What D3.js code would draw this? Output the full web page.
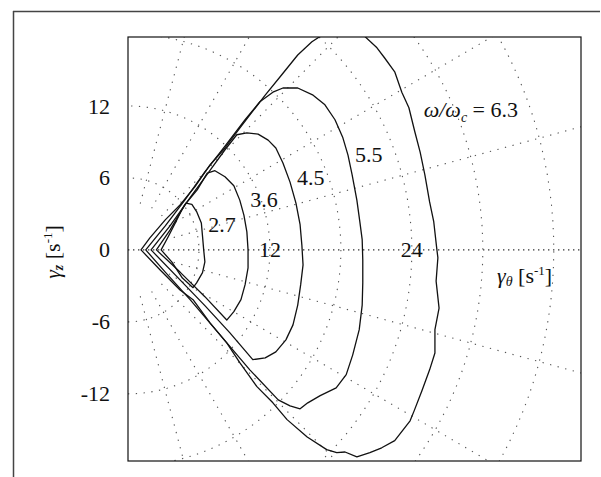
<!DOCTYPE html>
<html>
<head>
<meta charset="utf-8">
<script src="https://cdn.jsdelivr.net/npm/d3@7"></script>
<style>
  html, body { margin: 0; padding: 0; background: #fff; }
  svg { display: block; }
  svg text { font-family: "Liberation Serif", "Times New Roman", Times, "DejaVu Serif", serif; fill: #111; }
</style>
</head>
<body>
<svg id="chart" width="601" height="477"></svg>
<script>
const SERIF = '"Liberation Serif", "Times New Roman", Times, "DejaVu Serif", serif';

// ω/ωc of each trace, inner to outer
const ratios = ["2.7", "3.6", "4.5", "5.5", "6.3"];

// traces [γθ, γz] in s^-1
const trace27 = [[2.8,0],[3.4,1.1],[4.0,2.25],[4.5,3.25],[4.9,3.9],[5.4,3.8],[5.8,3.2],[6.2,2.25],
  [6.3,1.15],[6.4,0],[6.5,-1.0],[6.3,-1.9],[5.8,-2.75],[5.5,-3.15],[4.6,-2.35],[3.7,-1.0]];
const trace36 = [[2.4,0],[3.55,1.65],[4.8,3.75],[5.85,5.0],[6.7,6.4],[7.35,6.6],[8.2,6.1],[8.95,5.35],
  [9.45,4.15],[9.8,2.9],[10.05,1.5],[10.15,0],[10.15,-1.5],[9.9,-2.9],[9.55,-4.15],[8.95,-5.15],
  [8.35,-5.85],[6.5,-3.9],[4.4,-1.85]];
const trace45 = [[1.95,0],[3.55,2.0],[5.25,4.35],[6.95,6.65],[8.2,8.35],[9.2,9.6],[10.05,9.75],[11.0,9.65],
  [11.85,9.15],[12.5,8.5],[13.1,7.25],[13.7,5.65],[14.2,3.9],[14.55,2.1],[14.7,0.4],[14.8,-1.25],
  [14.6,-2.9],[14.35,-4.6],[13.95,-6.25],[13.35,-7.5],[12.5,-8.5],[11.6,-9.0],[10.55,-9.15],
  [8.6,-6.9],[6.5,-4.65],[4.4,-2.5]];
const trace55 = [[1.5,0],[3.15,2.0],[4.8,4.15],[6.5,6.5],[8.2,8.65],[9.9,10.85],[11.15,12.35],[12.25,13.15],
  [13.1,13.5],[14.35,13.5],[15.65,12.9],[16.65,12.1],[17.5,10.85],[18.15,9.4],[18.6,7.9],[18.95,6.25],
  [19.35,4.15],[19.6,2.35],[19.8,0.85],[19.85,-0.85],[19.85,-2.75],[19.8,-4.6],[19.55,-6.65],
  [19.0,-8.75],[18.45,-10.4],[17.6,-11.5],[16.25,-12.15],[15.2,-12.75],[14.55,-13.25],[13.7,-13.0],
  [12.7,-12.5],[10.3,-10.0],[7.8,-7.1],[5.25,-4.15],[3.15,-1.85]];
const trace63 = [[1.1,0],[1.85,1.0],[3.15,2.5],[4.4,3.75],[5.65,5.25],[6.95,7.1],[8.2,8.5],[9.45,10.15],
  [10.5,11.5],[11.6,12.9],[13.0,14.6],[14.35,16.25],[15.55,17.35],[16.4,17.9],[17.6,18.85],[18.75,19.0],
  [19.8,18.0],[21.05,16.85],[21.7,16.0],[22.55,14.85],[23.15,13.15],[23.75,11.85],[24.25,9.85],
  [24.7,8.15],[25.1,6.25],[25.5,4.0],[25.85,2.35],[26.1,0.15],[26.2,-0.65],[26.05,-2.6],[26.3,-4.85],
  [25.95,-6.65],[25.95,-8.6],[25.5,-10.0],[24.85,-11.75],[24.2,-13.4],[23.85,-14.25],[22.55,-15.9],
  [21.45,-16.5],[20.45,-16.9],[19.35,-17.25],[18.35,-16.85],[17.65,-16.9],[16.8,-16.65],[15.15,-15.6],
  [13.45,-14.15],[12.25,-12.75],[10.9,-11.4],[9.45,-9.4],[8.35,-7.75],[6.95,-6.1],[5.5,-4.15],
  [4.4,-3.35],[2.7,-1.65]];
const traces = [trace27, trace36, trace45, trace55, trace63];

const yTicks = [-12, -6, 0, 6, 12];
const ringRadii = [6, 12, 18, 24, 30, 36];
const ringLabels = [12, 24];
const rayAngles = [-75, -60, -45, -30, -15, 15, 30, 45, 60, 75];

// where the ω/ωc numbers sit (data units, baseline)
const ratioLabelPos = [[7.95, 1.5], [11.5, 3.6], [15.45, 5.4], [20.35, 7.35], [25.0, 11.1]];

const svg = d3.select("#chart").attr("font-family", SERIF);
const box = { left: 128, right: 581, top: 37, bottom: 461 };

const x = d3.scaleLinear().domain([0, 38.3]).range([box.left, box.right]);
const y = d3.scaleLinear().domain([-17.6, 17.75]).range([box.bottom, box.top]);

// outer frame (top + left only)
svg.append("line").attr("x1", 13).attr("x2", 600).attr("y1", 11.5).attr("y2", 11.5)
  .attr("stroke", "#444").attr("stroke-width", 1.5);
svg.append("line").attr("x1", 13.5).attr("x2", 13.5).attr("y1", 11).attr("y2", 477)
  .attr("stroke", "#444").attr("stroke-width", 1.5);

svg.append("clipPath").attr("id", "plotClip")
  .append("rect").attr("x", box.left).attr("y", box.top)
  .attr("width", box.right - box.left).attr("height", box.bottom - box.top);

const plot = svg.append("g").attr("clip-path", "url(#plotClip)");

// polar grid
const line = d3.line().x(d => x(d[0])).y(d => y(d[1]));
const gridG = plot.append("g").attr("fill", "none").attr("stroke", "#555")
  .attr("stroke-width", 1.1).attr("stroke-dasharray", "1.3,6.5");

ringRadii.forEach(r => {
  const pts = d3.range(-90, 91, 2).map(a => [r * Math.cos(a * Math.PI / 180), r * Math.sin(a * Math.PI / 180)]);
  gridG.append("path").attr("d", line(pts));
});
rayAngles.forEach(a => {
  const c = Math.cos(a * Math.PI / 180), s = Math.sin(a * Math.PI / 180);
  gridG.append("path").attr("d", line([[4 * c, 4 * s], [45 * c, 45 * s]]));
});

// zero line
plot.append("line")
  .attr("x1", x(0)).attr("x2", x(38.3)).attr("y1", y(0)).attr("y2", y(0))
  .attr("stroke", "#333").attr("stroke-width", 1.2).attr("stroke-dasharray", "1.4,3.6");

// traces
const traceLine = d3.line().x(d => x(d[0])).y(d => y(d[1])).curve(d3.curveLinearClosed);
plot.append("g").selectAll("path")
  .data(traces).join("path")
  .attr("d", traceLine)
  .attr("fill", "none")
  .attr("stroke", "#111")
  .attr("stroke-width", 1.3)
  .attr("stroke-linejoin", "round");

// ring labels on the zero line
svg.append("g").selectAll("text")
  .data(ringLabels).join("text")
  .attr("x", d => x(d))
  .attr("y", y(0) + 7)
  .attr("text-anchor", "middle")
  .attr("font-family", SERIF)
  .attr("font-size", 22)
  .text(d => d);

// ω/ωc labels
ratios.forEach((r, i) => {
  const [lx, ly] = ratioLabelPos[i];
  if (i < ratios.length - 1) {
    svg.append("text").attr("x", x(lx)).attr("y", y(ly))
      .attr("font-family", SERIF)
      .attr("text-anchor", "middle").attr("font-size", 22).text(r);
  } else {
    const t = svg.append("text").attr("x", x(lx)).attr("y", y(ly))
      .attr("font-family", SERIF).attr("font-size", 22);
    t.append("tspan").attr("font-style", "italic").text("ω/ω");
    t.append("tspan").attr("font-style", "italic").attr("font-size", 14).attr("dy", 5).text("c");
    t.append("tspan").attr("dy", -5).text(" = " + r);
  }
});

// box
svg.append("rect")
  .attr("x", box.left).attr("y", box.top)
  .attr("width", box.right - box.left).attr("height", box.bottom - box.top)
  .attr("fill", "none").attr("stroke", "#111").attr("stroke-width", 1.2);

// y axis labels
const yAxis = d3.axisLeft(y).tickValues(yTicks).tickSize(0).tickPadding(18).tickFormat(d => String(d));
const yAxisG = svg.append("g").attr("transform", `translate(${box.left},0)`).call(yAxis)
  .attr("font-family", SERIF).attr("font-size", 22);
yAxisG.select(".domain").remove();
yAxisG.selectAll("text").attr("fill", "#111");

// x axis title inside the plot
const xt = svg.append("text").attr("x", 497).attr("y", 283)
  .attr("font-family", SERIF).attr("font-size", 22);
xt.append("tspan").attr("font-style", "italic").text("γ");
xt.append("tspan").attr("font-style", "italic").attr("font-size", 14).attr("dy", 3).text("θ");
xt.append("tspan").attr("dy", -3).text(" [s");
xt.append("tspan").attr("font-size", 13).attr("dy", -8).text("-1");
xt.append("tspan").attr("dy", 8).text("]");

// y axis title
const yt = svg.append("text")
  .attr("transform", "translate(60,252) rotate(-90)")
  .attr("text-anchor", "middle")
  .attr("font-family", SERIF)
  .attr("font-size", 22);
yt.append("tspan").attr("font-style", "italic").text("γ");
yt.append("tspan").attr("font-style", "italic").attr("font-weight", "bold").attr("font-size", 14).attr("dy", 3).text("z");
yt.append("tspan").attr("dy", -3).text(" [s");
yt.append("tspan").attr("font-size", 13).attr("dy", -8).text("-1");
yt.append("tspan").attr("dy", 8).text("]");
</script>
</body>
</html>
